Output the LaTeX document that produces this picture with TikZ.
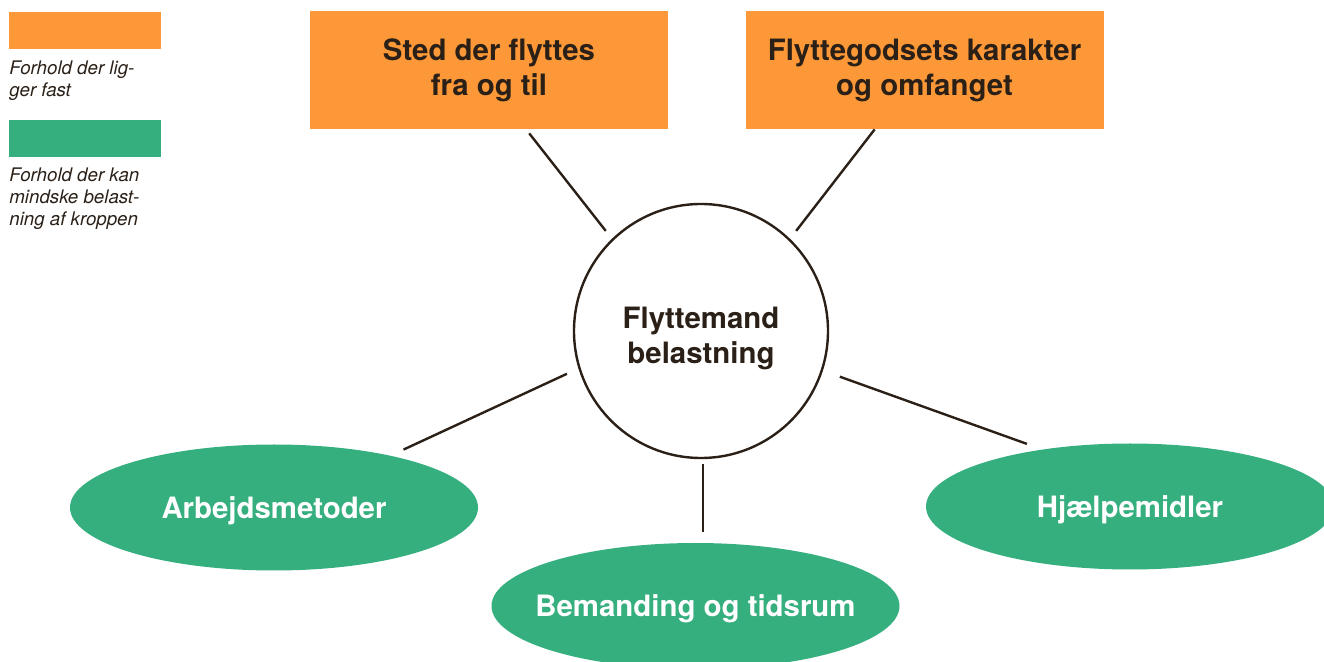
\documentclass[tikz,border=0pt]{standalone}
\usepackage{fontspec}
\setmainfont{TeX Gyre Heros}
\usetikzlibrary{shapes.geometric}
\definecolor{fastorange}{HTML}{FC9838}
\definecolor{mildgreen}{HTML}{36AF7F}
\definecolor{inkbrown}{HTML}{2A2017}

\begin{document}
\begin{tikzpicture}[x=0.5pt, y=-0.5pt,
        bigtext/.style={font=\bfseries\fontsize{14.7}{17.5}\selectfont},
        fixed/.style={rectangle, fill=fastorange, text=inkbrown, bigtext, align=center,
            minimum width=179pt, minimum height=59pt, inner sep=0pt},
        action/.style={ellipse, fill=mildgreen, text=white, bigtext, text depth=-1.5pt,
            minimum width=204pt, minimum height=63pt, inner sep=0pt, inner xsep=-12pt},
        hub/.style={circle, draw=inkbrown, line width=1.2pt, text=inkbrown, bigtext,
            align=center, minimum size=127pt, inner sep=0pt},
        swatch/.style={rectangle, minimum width=76pt, minimum height=18.5pt, inner sep=0pt},
        note/.style={anchor=north west, align=left, inner sep=0pt, text=inkbrown,
            font=\itshape\fontsize{9.35}{11}\selectfont},
        link/.style={draw=inkbrown, line width=1.2pt}]
        \useasboundingbox (0,0) rectangle (1324,662);
        \clip (0,0) rectangle (1324,662);
        % legend
        \node[swatch, fill=fastorange] (keyfixed) at (85,30.5) {};
        \node[note] (notefixed) at (9,60) {Forhold der lig-\\ger fast};
        \node[swatch, fill=mildgreen] (keyaction) at (85,138.5) {};
        \node[note] (noteaction) at (9,167) {Forhold der kan\\mindske belast-\\ning af kroppen};
        % diagram
        \node[fixed] (sted) at (489,70) {Sted der flyttes\\fra og til};
        \node[fixed] (gods) at (924.5,70) {Flyttegodsets karakter\\og omfanget};
        \node[hub] (hub) at (701,331) {\rule{0pt}{18.5pt}Flyttemand\\belastning};
        \node[action] (metoder) at (274,507.5) {Arbejdsmetoder};
        \node[action] (hjaelp) at (1130,506.5) {Hjælpemidler};
        \node[action] (bemand) at (695.5,606) {Bemanding og tidsrum};
        \foreach \from/\to/\a/\b in {sted.-58/hub.134/2.5pt/5pt, gods.-130.6/hub.46.5/0pt/5pt,
                hub.197.5/metoder.24/6.3pt/7pt, hub.-89/hub.-89 |- bemand.north/2.5pt/5.5pt,
                hub.-18.6/hjaelp.147.2/9pt/8pt}
            \draw[link, shorten <=\a, shorten >=\b] (\from) -- (\to);
    \end{tikzpicture}
\end{document}
